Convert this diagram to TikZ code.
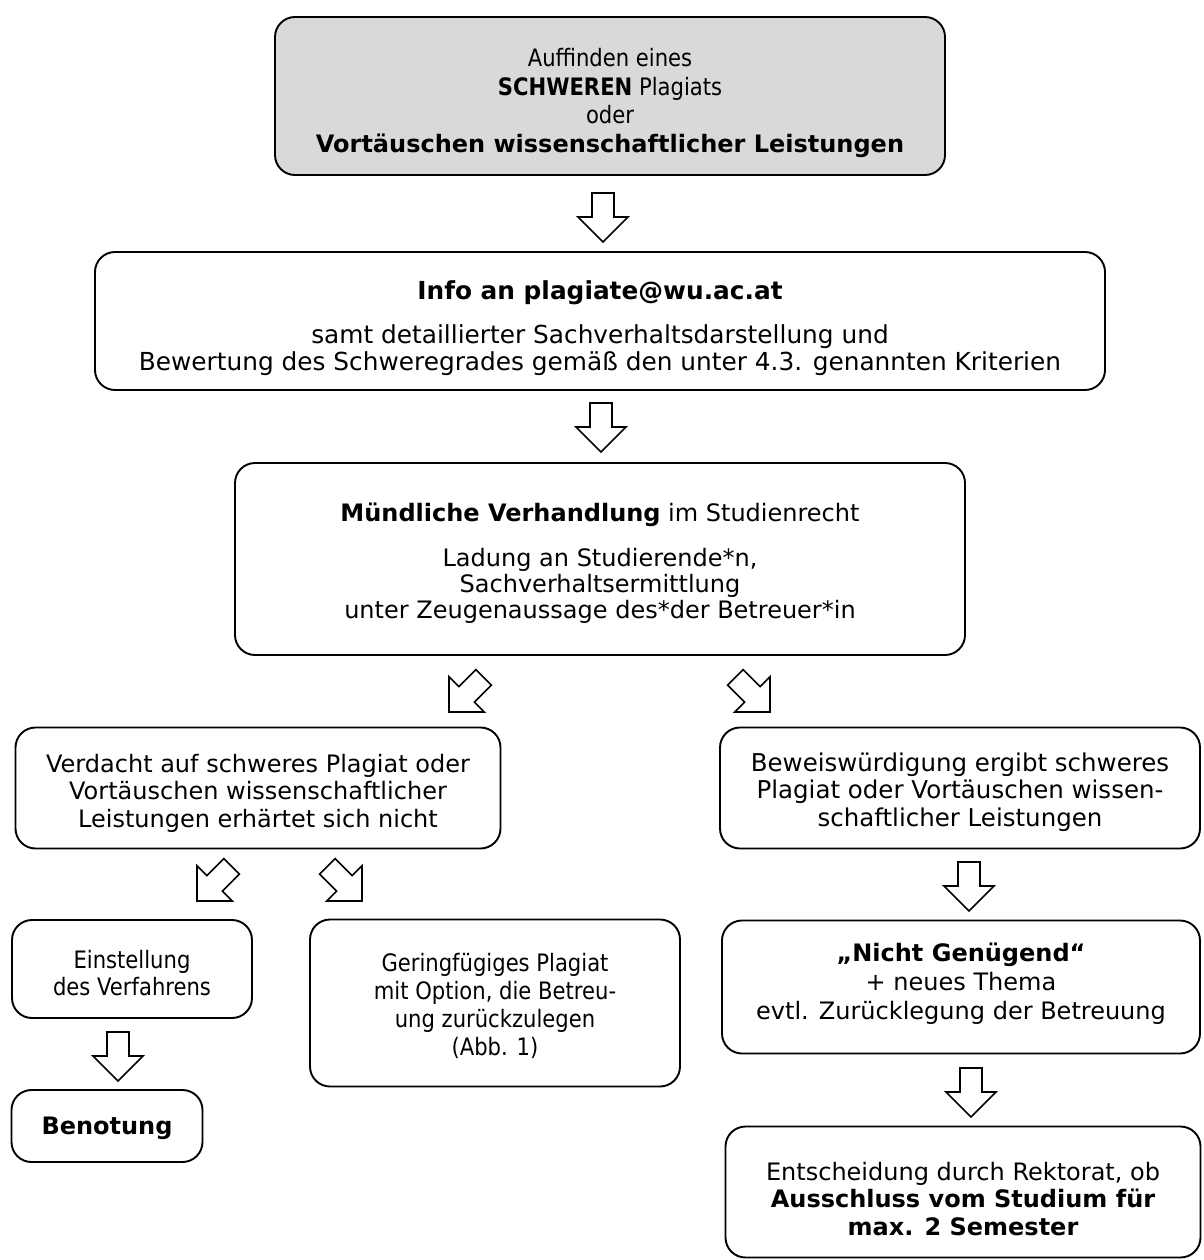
\documentclass[tikz,border=0pt]{standalone}
\usepackage{fontspec}
\setmainfont{DejaVu Sans}
\newfontfamily\condfont[FakeStretch=0.88]{DejaVu Sans}
\definecolor{boxgray}{RGB}{217,217,217}
\newcommand\hollowarrow[3]{%
  \begin{scope}[shift={(#1,#2)}, rotate=#3]
    \draw[harrow] (0,0) -- (-25,-25) -- (-11,-25) -- (-11,-49) -- (11,-49) -- (11,-25) -- (25,-25) -- cycle;
  \end{scope}}
\begin{document}
\begin{tikzpicture}[x=1pt,y=-1pt,
  box/.style={draw, line width=1.9pt, rounded corners=20pt, inner sep=0pt},
  txt/.style={align=center, inner sep=0pt, font=\fontsize{24}{27.5}\selectfont},
  ctxt/.style={align=center, inner sep=0pt, font=\condfont\fontsize{24}{28}\selectfont},
  harrow/.style={draw, line width=1.6pt, fill=white, line join=miter}]
\useasboundingbox (0,0) rectangle (1203,1260);

% boxes
\node[box, fill=boxgray, minimum width=670, minimum height=158] (b1) at (610,96) {};
\node[box, minimum width=1010, minimum height=138] (b2) at (600,321) {};
\node[box, minimum width=730, minimum height=192] (b3) at (600,559) {};
\node[box, minimum width=485, minimum height=121] (b4) at (258,788) {};
\node[box, minimum width=480, minimum height=121] (b5) at (960,788) {};
\node[box, minimum width=240, minimum height=98] (b6) at (132,969) {};
\node[box, minimum width=370, minimum height=167] (b7) at (495,1003) {};
\node[box, minimum width=478, minimum height=133] (b8) at (961,987) {};
\node[box, minimum width=191, minimum height=72] (b9) at (107,1126) {};
\node[box, minimum width=475, minimum height=131] (b10) at (963,1192) {};

% texts
\node[ctxt, font=\condfont\fontsize{24}{28.5}\selectfont] (t1) at (b1.center) [yshift=-7pt]
  {Auffinden eines\\ \textbf{SCHWEREN} Plagiats\\ oder\\ {\normalfont\bfseries Vortäuschen wissenschaftlicher Leistungen}};
\node[txt, font=\fontsize{24.8}{27}\selectfont] (t2) at (600,328)
  {\textbf{Info an plagiate@wu.ac.at}\\[17pt] samt detaillierter Sachverhaltsdarstellung und\\ Bewertung des Schweregrades gemäß den unter 4.3. genannten Kriterien};
\node[txt, font=\fontsize{24}{26}\selectfont] (t3) at (600,563)
  {\textbf{Mündliche Verhandlung} im Studienrecht\\[19pt] Ladung an Studierende*n,\\ Sachverhaltsermittlung\\ unter Zeugenaussage des*der Betreuer*in};
\node[txt] (t4) at (258,793)
  {Verdacht auf schweres Plagiat oder\\ Vortäuschen wissenschaftlicher\\ Leistungen erhärtet sich nicht};
\node[txt, font=\fontsize{24.5}{27.5}\selectfont] (t5) at (960,792)
  {Beweiswürdigung ergibt schweres\\ Plagiat oder Vortäuschen wissen-\\ schaftlicher Leistungen};
\node[ctxt, font=\condfont\fontsize{24}{27}\selectfont] (t6) at (132,973) {Einstellung\\ des Verfahrens};
\node[ctxt] (t7) at (495,1006)
  {Geringfügiges Plagiat\\ mit Option, die Betreu-\\ ung zurückzulegen\\ (Abb. 1)};
\node[txt, font=\fontsize{24}{29}\selectfont] (t8) at (961,984)
  {\textbf{„Nicht Genügend“}\\ + neues Thema\\ evtl. Zurücklegung der Betreuung};
\node[txt] (t9) at (107,1128) {\textbf{Benotung}};
\node[txt] (t10) at (963,1199)
  {Entscheidung durch Rektorat, ob\\ \textbf{Ausschluss vom Studium für}\\ \textbf{max. 2 Semester}};

% block arrows
\hollowarrow{603}{242}{0}
\hollowarrow{601}{452}{0}
\hollowarrow{449}{712}{-45}
\hollowarrow{770}{712}{45}
\hollowarrow{197}{901}{-45}
\hollowarrow{362}{901}{45}
\hollowarrow{969}{911}{0}
\hollowarrow{118}{1081}{0}
\hollowarrow{971}{1117}{0}
\end{tikzpicture}
\end{document}
